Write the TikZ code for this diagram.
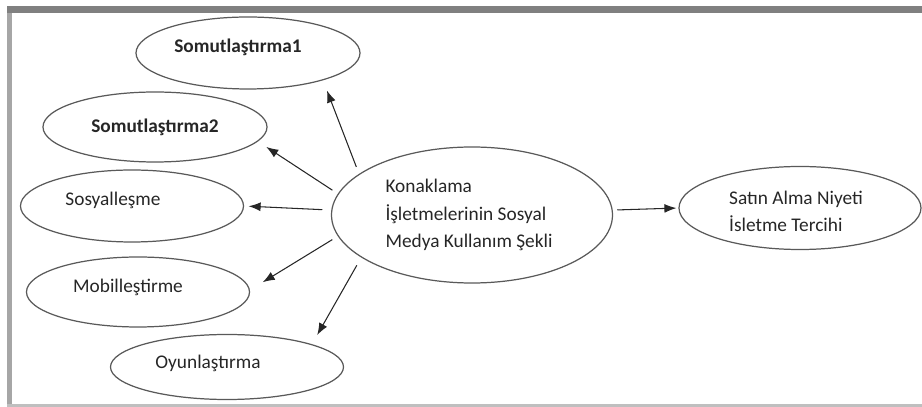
\documentclass[tikz,border=0pt]{standalone}
\usepackage{fontspec}
\setmainfont{Carlito}
\usetikzlibrary{shapes.geometric, arrows.meta}

\begin{document}
\begin{tikzpicture}[
    oval/.style={ellipse, draw=black!65, line width=0.7pt, inner sep=0pt},
    txt/.style={font=\fontsize{11}{15.5}\selectfont, text=black!85, align=left},
    arrow/.style={draw, -{Latex[length=2.4mm, width=1.8mm]}, line width=0.6pt, color=black!85}
]
\useasboundingbox (0,0) rectangle (18.44,8.14);
% frame
\fill [black!50] (0.14,8.02) rectangle (18.44,7.88);
\fill [black!35] (0.14,0) rectangle (0.24,7.88);
\fill [black!25] (0.14,0) rectangle (18.44,0.06);
% ellipses
\node [oval, minimum width=5.62cm, minimum height=2.72cm,
  label={[txt, xshift=-0.06cm]center:Konaklama\\İşletmelerinin Sosyal\\Medya Kullanım Şekli}] (kon) at (9.44,3.84) {};
\node [oval, minimum width=4.48cm, minimum height=1.44cm,
  label={[txt, font=\fontsize{11}{15.5}\selectfont\bfseries, xshift=-0.2cm, yshift=0.12cm]center:Somutlaştırma1}] (som1) at (4.96,7.08) {};
\node [oval, minimum width=4.48cm, minimum height=1.40cm,
  label={[txt, font=\fontsize{11}{15.5}\selectfont\bfseries]center:Somutlaştırma2}] (som2) at (3.10,5.60) {};
\node [oval, minimum width=4.46cm, minimum height=1.44cm,
  label={[txt, xshift=-0.38cm, yshift=0.12cm]center:Sosyalleşme}] (sosyal) at (2.64,4.02) {};
\node [oval, minimum width=4.46cm, minimum height=1.40cm,
  label={[txt, xshift=-0.2cm, yshift=0.1cm]center:Mobilleştirme}] (mobil) at (2.76,2.30) {};
\node [oval, minimum width=4.66cm, minimum height=1.30cm,
  label={[txt, xshift=-0.38cm, yshift=0.08cm]center:Oyunlaştırma}] (oyun) at (4.54,0.80) {};
\node [oval, minimum width=4.84cm, minimum height=1.66cm,
  label={[txt, xshift=-0.08cm, yshift=-0.07cm]center:Satın Alma Niyeti\\İsletme Tercihi}] (satin) at (16.0,3.98) {};
% connectors
\path [arrow, shorten <=0.15cm, shorten >=0.22cm] (kon.160) -- (som1.-20);
\path [arrow, shorten <=0.13cm, shorten >=0.2cm] (kon.171) -- (som2.-8);
\path [arrow, shorten <=0.18cm, shorten >=0.09cm] (kon.178) -- (sosyal.0);
\path [arrow, shorten <=0.13cm, shorten >=0.3cm] (kon.189) -- (mobil.1);
\path [arrow, shorten <=0.18cm, shorten >=0.21cm] (kon.201) -- (oyun.15.5);
\path [arrow, shorten <=0.09cm, shorten >=0.04cm] (kon.2) -- (satin.180);
\end{tikzpicture}
\end{document}
